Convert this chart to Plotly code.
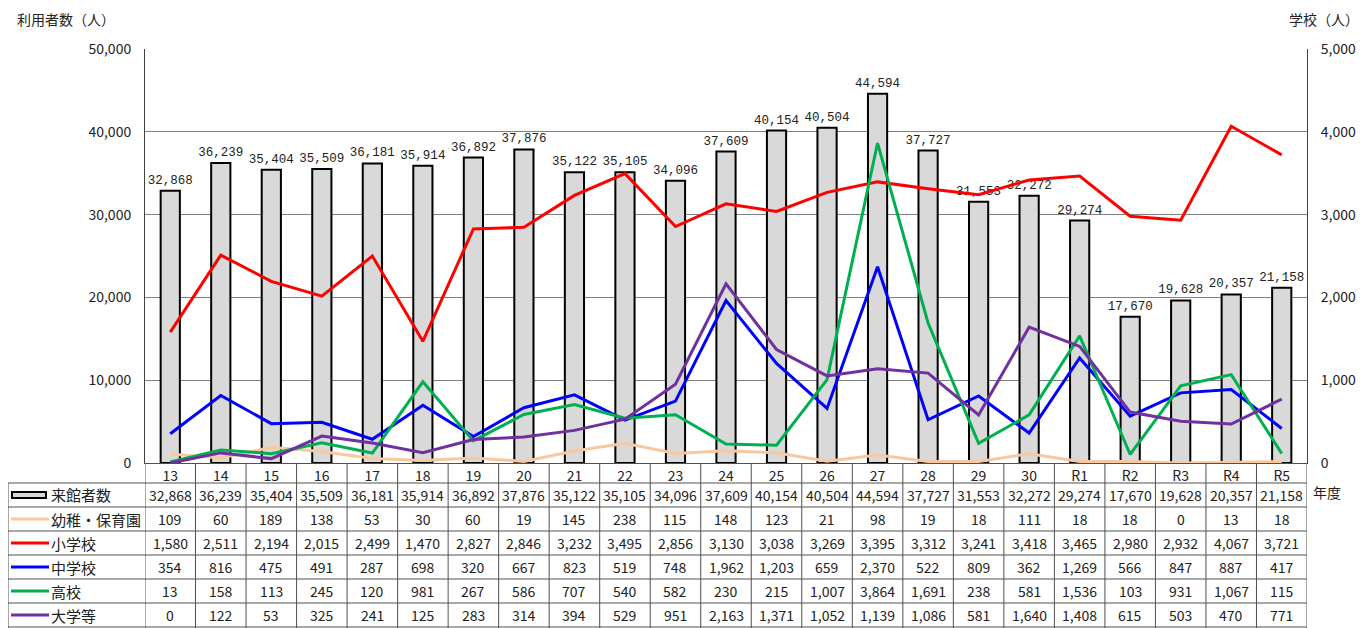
import plotly.graph_objects as go

categories = ["13","14","15","16","17","18","19","20","21","22","23","24","25","26","27","28","29","30","R1","R2","R3","R4","R5"]
visitors = [32868,36239,35404,35509,36181,35914,36892,37876,35122,35105,34096,37609,40154,40504,44594,37727,31553,32272,29274,17670,19628,20357,21158]
kinder = [109,60,189,138,53,30,60,19,145,238,115,148,123,21,98,19,18,111,18,18,0,13,18]
elementary = [1580,2511,2194,2015,2499,1470,2827,2846,3232,3495,2856,3130,3038,3269,3395,3312,3241,3418,3465,2980,2932,4067,3721]
junior = [354,816,475,491,287,698,320,667,823,519,748,1962,1203,659,2370,522,809,362,1269,566,847,887,417]
high = [13,158,113,245,120,981,267,586,707,540,582,230,215,1007,3864,1691,238,581,1536,103,931,1067,115]
univ = [0,122,53,325,241,125,283,314,394,529,951,2163,1371,1052,1139,1086,581,1640,1408,615,503,470,771]

bar_name = "来館者数"
line_series = [
    ("幼稚・保育園", kinder, "#F8C8A0"),
    ("小学校", elementary, "#FF0000"),
    ("中学校", junior, "#0000FF"),
    ("高校", high, "#00B050"),
    ("大学等", univ, "#7030A0"),
]

OFF = 8  # page body margin
W, H = 1364 - OFF, 628 - OFF
L, T = 145 - OFF, 49 - OFF
R = W - (1307 - OFF)
B = H - (463 - OFF)
PW, PH = W - L - R, H - T - B

def px(xp):
    return (xp - OFF - L) / PW

def py(yp):
    return (H - B - (yp - OFF)) / PH

FONT = "Noto Sans CJK JP"
n = len(categories)
xs = list(range(n))

fig = go.Figure()
fig.add_trace(go.Bar(
    x=xs, y=visitors, width=0.38, name=bar_name,
    marker=dict(color="#D9D9D9", line=dict(color="#000000", width=2)),
    text=[f"{v:,}" for v in visitors], textposition="outside", constraintext="none",
    textfont=dict(family="Liberation Mono", size=12.5, color="#222"),
    cliponaxis=False, showlegend=False,
))
for name, vals, color in line_series:
    fig.add_trace(go.Scatter(
        x=xs, y=vals, yaxis="y2", mode="lines", name=name,
        line=dict(color=color, width=3), showlegend=False,
    ))

shapes = []
annotations = []
lc = "#505050"

row_top = 483
row_h = 24
all_rows = [(bar_name, visitors)] + [(nm, v) for nm, v, _ in line_series]
nrows = len(all_rows)

for i in range(n + 1):
    shapes.append(dict(type="line", xref="x", yref="paper", x0=i - 0.5, x1=i - 0.5,
                       y0=py(463), y1=py(640), line=dict(color=lc, width=1)))
shapes.append(dict(type="line", xref="paper", yref="paper", x0=px(8), x1=px(8),
                   y0=py(row_top), y1=py(640), line=dict(color=lc, width=1)))
for r in range(nrows + 1):
    yy = row_top + r * row_h
    shapes.append(dict(type="line", xref="paper", yref="paper", x0=px(8), x1=1,
                       y0=py(yy), y1=py(yy), line=dict(color=lc, width=1)))

for r, (nm, vals) in enumerate(all_rows):
    yc = row_top + r * row_h + row_h / 2
    for i, v in enumerate(vals):
        annotations.append(dict(xref="x", yref="paper", x=i, y=py(yc), text=f"{v:,}",
                                showarrow=False, font=dict(family=FONT, size=14, color="#222"),
                                xanchor="center", yanchor="middle"))
    annotations.append(dict(xref="paper", yref="paper", x=px(49), y=py(yc), text=nm,
                            showarrow=False, font=dict(family=FONT, size=15, color="#222"),
                            xanchor="left", yanchor="middle"))
    if r == 0:
        shapes.append(dict(type="rect", xref="paper", yref="paper", x0=px(12), x1=px(46),
                           y0=py(yc - 3), y1=py(yc + 3), fillcolor="#D9D9D9",
                           line=dict(color="#000", width=2)))
    else:
        color = line_series[r - 1][2]
        shapes.append(dict(type="line", xref="paper", yref="paper", x0=px(11), x1=px(49),
                           y0=py(yc), y1=py(yc), line=dict(color=color, width=3)))

annotations.append(dict(xref="paper", yref="paper", x=px(15), y=py(19), text="利用者数（人）",
                        showarrow=False, font=dict(family=FONT, size=14, color="#222"),
                        xanchor="left", yanchor="middle"))
annotations.append(dict(xref="paper", yref="paper", x=px(1361), y=py(19), text="学校（人）",
                        showarrow=False, font=dict(family=FONT, size=14, color="#222"),
                        xanchor="right", yanchor="middle"))
annotations.append(dict(xref="paper", yref="paper", x=px(1311), y=py(492), text="年度",
                        showarrow=False, font=dict(family=FONT, size=14, color="#222"),
                        xanchor="left", yanchor="middle"))

fig.update_layout(
    width=W, height=H,
    margin=dict(l=L, r=R, t=T, b=B, autoexpand=False),
    paper_bgcolor="white", plot_bgcolor="white",
    shapes=shapes, annotations=annotations,
    xaxis=dict(range=[-0.5, n - 0.5], tickvals=xs, ticktext=categories, automargin=False,
               showgrid=False, zeroline=False, showline=True, linecolor=lc,
               ticks="", tickfont=dict(family=FONT, size=14, color="#222")),
    yaxis=dict(range=[0, 50000], dtick=10000, tickformat=",", showgrid=True, automargin=False,
               gridcolor="#808080", gridwidth=1, zeroline=False,
               showline=True, linecolor="#404040", mirror=True,
               ticks="", ticklabelstandoff=10,
               tickfont=dict(family=FONT, size=14, color="#222")),
    yaxis2=dict(range=[0, 5000], dtick=1000, tickformat=",", overlaying="y", side="right",
                automargin=False,
                showgrid=False, zeroline=False, showline=True, linecolor="#404040",
                ticks="", ticklabelstandoff=10,
                tickfont=dict(family=FONT, size=14, color="#222")),
    bargap=0.6,
)

fig.write_html("out.html")
